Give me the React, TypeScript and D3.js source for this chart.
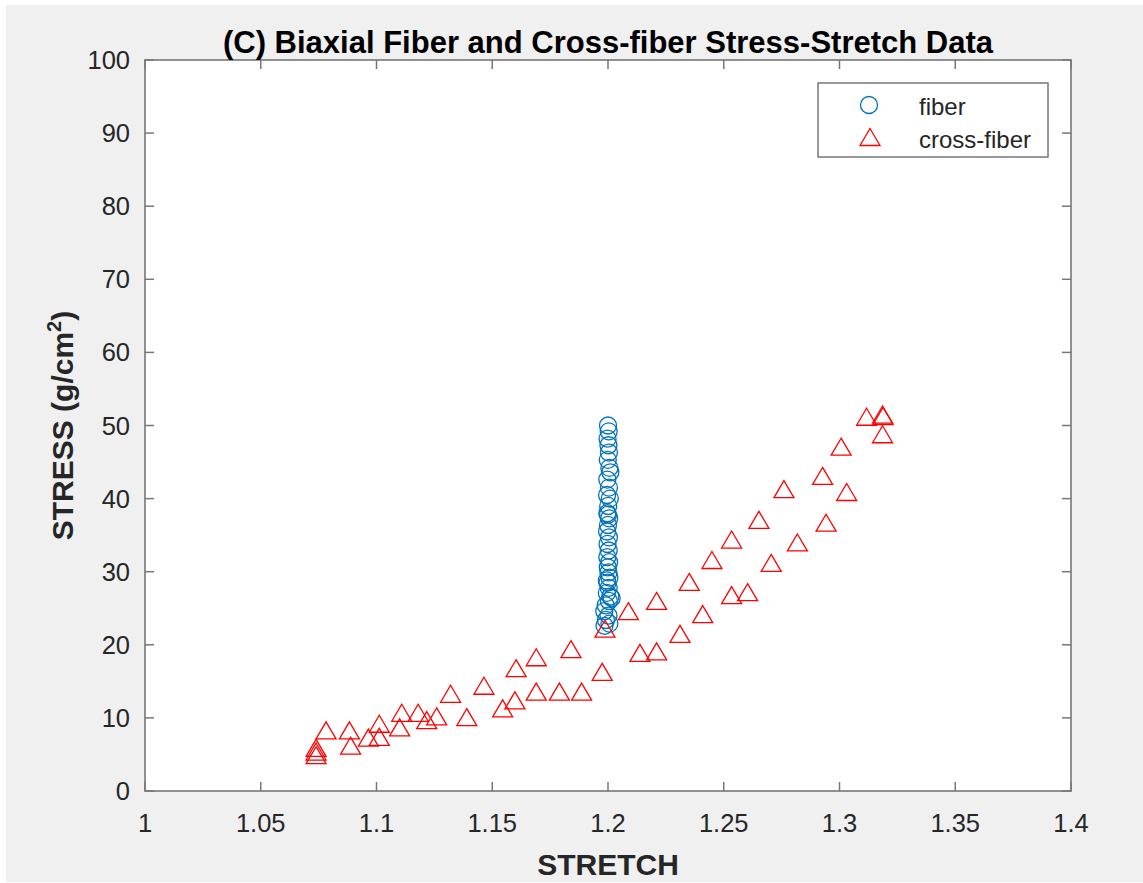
import React from "react";
import * as d3 from "d3";

const fiberStretch = [1.2000, 1.2003, 1.1998, 1.2002, 1.2004, 1.1999, 1.2006, 1.2010, 1.1997, 1.2004, 1.1996, 1.2008, 1.2001, 1.1997, 1.2005, 1.2000, 1.1996, 1.2004, 1.1998, 1.2003, 1.1997, 1.2005, 1.1999, 1.2002, 1.2006, 1.1998, 1.2003, 1.1995, 1.2010, 1.2016, 1.2004, 1.1990, 1.1984, 1.2002, 1.1991, 1.1985, 1.2006, 1.1995, 1.2000];
const fiberStress = [50.0, 49.2, 48.2, 47.3, 46.3, 45.3, 44.2, 43.6, 42.6, 41.5, 40.5, 40.0, 39.0, 38.0, 37.3, 36.4, 35.5, 34.7, 33.8, 32.9, 32.0, 31.3, 30.6, 29.9, 29.2, 28.5, 27.8, 27.1, 26.6, 26.4, 26.0, 25.4, 24.6, 24.0, 23.4, 22.6, 22.9, 28.8, 37.8];

const crossStretch = [1.0739, 1.0739, 1.0739, 1.0782, 1.0883, 1.0888, 1.0965, 1.1012, 1.1012, 1.1100, 1.1109, 1.1180, 1.1217, 1.1260, 1.1320, 1.1390, 1.1464, 1.1545, 1.1598, 1.1603, 1.1690, 1.1690, 1.1790, 1.1840, 1.1886, 1.1975, 1.1987, 1.2088, 1.2138, 1.2210, 1.2210, 1.2311, 1.2351, 1.2409, 1.2449, 1.2534, 1.2534, 1.2603, 1.2652, 1.2705, 1.2760, 1.2818, 1.2927, 1.2942, 1.3007, 1.3031, 1.3117, 1.3186, 1.3188, 1.3186];
const crossStress = [4.9, 5.4, 5.9, 8.3, 8.3, 6.2, 7.3, 7.4, 9.2, 8.7, 10.7, 10.7, 9.7, 10.2, 13.3, 10.1, 14.4, 11.3, 12.4, 16.8, 13.6, 18.3, 13.6, 19.4, 13.6, 16.3, 22.2, 24.6, 18.9, 19.1, 26.0, 21.5, 28.6, 24.2, 31.6, 26.8, 34.4, 27.2, 37.1, 31.2, 41.3, 34.0, 43.1, 36.7, 47.1, 40.9, 51.2, 51.5, 51.3, 48.8];

const xTicks = [1, 1.05, 1.1, 1.15, 1.2, 1.25, 1.3, 1.35, 1.4];
const yTicks = [0, 10, 20, 30, 40, 50, 60, 70, 80, 90, 100];
const titleText = "(C) Biaxial Fiber and Cross-fiber Stress-Stretch Data";
const xLabel = "STRETCH";
const legendLabels = ["fiber", "cross-fiber"];

const W = 1143;
const H = 883;
const left = 145, right = 1071, top = 60, bottom = 791;
const FONT = "'Liberation Sans', Arial, Helvetica, sans-serif";
const AX = "#777777";
const TXT = "#262626";
const BLUE = "#0072BD";
const RED = "#ff0000";

const tri = (cx: number, cy: number) =>
  `M${cx},${cy - 8.5}L${cx + 10},${cy + 8.5}L${cx - 10},${cy + 8.5}Z`;

export default function App() {
  const x = d3.scaleLinear().domain([1, 1.4]).range([left, right]);
  const y = d3.scaleLinear().domain([0, 100]).range([bottom, top]);
  const tickLen = 9;

  return (
    <svg width={W} height={H} style={{ position: "absolute", left: 0, top: 0 }} fontFamily={FONT}>
      <rect x={0} y={0} width={W} height={H} fill="#ffffff" />
      <rect x={6} y={5} width={W - 6} height={H - 6} fill="#f0f0f0" />
      <rect x={left} y={top} width={right - left} height={bottom - top} fill="#ffffff" />

      {/* ticks */}
      {xTicks.map((t) => (
        <g key={"xt" + t}>
          <line x1={x(t)} x2={x(t)} y1={bottom} y2={bottom - tickLen} stroke={AX} strokeWidth={1.5} />
          <line x1={x(t)} x2={x(t)} y1={top} y2={top + tickLen} stroke={AX} strokeWidth={1.5} />
          <text x={x(t)} y={bottom + 41} textAnchor="middle" fontSize={25.5} fill={TXT}>
            {String(t)}
          </text>
        </g>
      ))}
      {yTicks.map((t) => (
        <g key={"yt" + t}>
          <line x1={left} x2={left + tickLen} y1={y(t)} y2={y(t)} stroke={AX} strokeWidth={1.5} />
          <line x1={right} x2={right - tickLen} y1={y(t)} y2={y(t)} stroke={AX} strokeWidth={1.5} />
          <text x={left - 15} y={y(t) + 9} textAnchor="end" fontSize={25.5} fill={TXT}>
            {String(t)}
          </text>
        </g>
      ))}

      {/* data */}
      <g>
        {fiberStretch.map((sx, i) => (
          <circle key={"f" + i} cx={x(sx)} cy={y(fiberStress[i])} r={8.5} fill="none" stroke={BLUE} strokeWidth={1.3} />
        ))}
      </g>
      <g>
        {crossStretch.map((sx, i) => (
          <path key={"c" + i} d={tri(x(sx), y(crossStress[i]))} fill="none" stroke={RED} strokeWidth={1.3} strokeLinejoin="miter" />
        ))}
      </g>

      {/* axes box */}
      <rect x={left} y={top} width={right - left} height={bottom - top} fill="none" stroke={AX} strokeWidth={1.6} />

      {/* legend */}
      <rect x={818} y={83} width={230} height={74} fill="#ffffff" stroke={AX} strokeWidth={1.5} />
      <circle cx={869} cy={105} r={8.5} fill="none" stroke={BLUE} strokeWidth={1.3} />
      <path d={tri(870, 137)} fill="none" stroke={RED} strokeWidth={1.3} />
      <text x={919} y={115} fontSize={24} fill={TXT}>{legendLabels[0]}</text>
      <text x={919} y={148} fontSize={24} fill={TXT}>{legendLabels[1]}</text>

      {/* title and labels */}
      <text x={(left + right) / 2} y={53} textAnchor="middle" fontSize={31} fontWeight="bold" fill="#000">
        {titleText}
      </text>
      <text x={(left + right) / 2} y={875} textAnchor="middle" fontSize={30} fontWeight="bold" fill={TXT}>
        {xLabel}
      </text>
      <text transform={`translate(73,${(top + bottom) / 2}) rotate(-90)`} textAnchor="middle" fontSize={30} fontWeight="bold" fill={TXT}>
        STRESS (g/cm<tspan dy={-12} fontSize={20}>2</tspan><tspan dy={12}>)</tspan>
      </text>
    </svg>
  );
}
